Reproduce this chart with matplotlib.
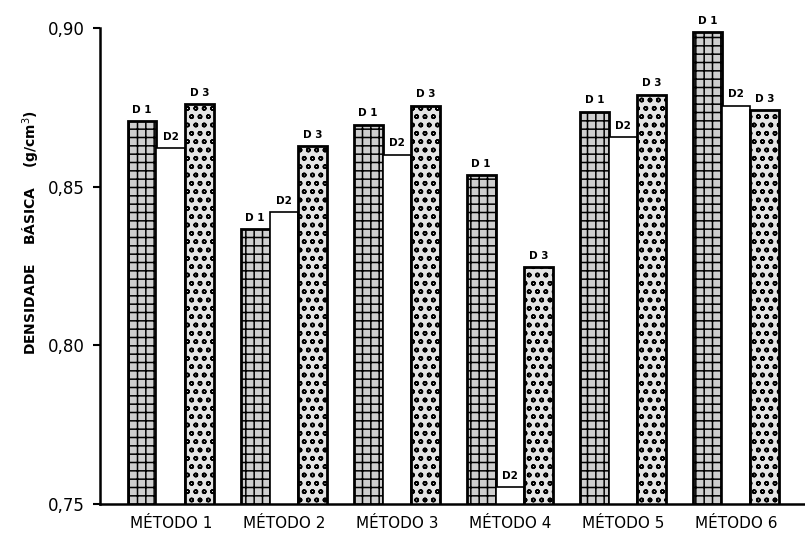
import matplotlib
matplotlib.use('Agg')
import matplotlib.pyplot as plt
import numpy as np

# dados
metodos = ['MÉTODO 1', 'MÉTODO 2', 'MÉTODO 3', 'MÉTODO 4', 'MÉTODO 5', 'MÉTODO 6']
d1 = [0.8705, 0.8366, 0.8695, 0.8535, 0.8736, 0.8987]
d2 = [0.862, 0.842, 0.860, 0.7553, 0.8655, 0.8755]
d3 = [0.876, 0.8627, 0.8755, 0.8247, 0.879, 0.874]
rotulos = ['D 1', 'D2', 'D 3']

plt.rcParams['font.family'] = ['DejaVu Sans']
plt.rcParams['hatch.linewidth'] = 1.1

fig = plt.figure(figsize=(8.05, 5.41), dpi=100)
ax = fig.add_axes([0.124, 0.0685, 0.876, 0.880])

x = np.arange(len(metodos))
w = 0.254

b1 = ax.bar(x - w, d1, w, color='#cfcfcf', edgecolor='black',
            hatch='++', linewidth=2.0)
b2 = ax.bar(x, d2, w, color='white', edgecolor='black', linewidth=1.2)
b3 = ax.bar(x + w, d3, w, color='#e4e4e4', edgecolor='black',
            hatch='oo', linewidth=2.0)

for barras, vals, lab in zip([b1, b2, b3], [d1, d2, d3], rotulos):
    for b, v in zip(barras, vals):
        ax.text(b.get_x() + b.get_width() / 2, v + 0.002, lab,
                ha='center', va='bottom', fontsize=7.5, fontweight='bold',
                clip_on=False)

ax.set_ylim(0.75, 0.90)
ax.set_xlim(-0.628, 5.61)
ax.set_yticks([0.75, 0.80, 0.85, 0.90])
ax.set_yticklabels(['0,75', '0,80', '0,85', '0,90'], fontsize=12)
ax.set_xticks(x)
ax.set_xticklabels(metodos, fontsize=11)
ax.tick_params(axis='x', length=0, pad=9)
ax.tick_params(axis='y', length=5, width=1.5, pad=6)

ax.spines['top'].set_visible(False)
ax.spines['right'].set_visible(False)
ax.spines['left'].set_linewidth(1.8)
ax.spines['bottom'].set_linewidth(1.8)

ax.set_ylabel('DENSIDADE    BÁSICA    (g/cm$^3$)', fontsize=10, fontweight='bold')
ax.yaxis.set_label_coords(-0.082, 0.57)

fig.savefig('out.png', dpi=100)
